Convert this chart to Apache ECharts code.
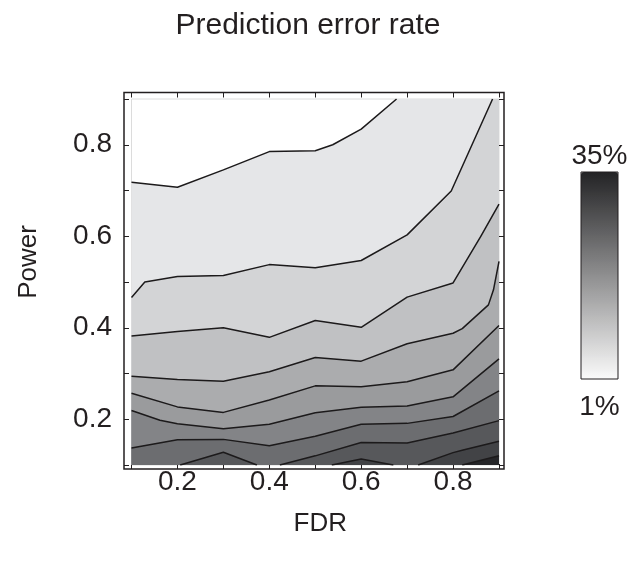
<!DOCTYPE html>
<html><head><meta charset="utf-8">
<script src="https://cdn.jsdelivr.net/npm/echarts@6/dist/echarts.min.js"></script>
<style>html,body{margin:0;padding:0;background:#fff}#c{width:634px;height:562px}</style>
</head><body><div id="c"></div>
<script>
// Axis ranges
const FDR_MIN = 0.1, FDR_MAX = 0.9;
const POW_MIN = 0.1, POW_MAX = 0.9;
const ERR_MIN = 1, ERR_MAX = 35;   // colour scale, %
const colorbarLabels = ['35%', '1%'];

// Contour lines of the prediction error rate, [FDR, Power], lightest level first
const line1  = [[0.1,0.718],[0.2,0.707],[0.3,0.745],[0.4,0.785],[0.5,0.787],[0.538,0.800],[0.6,0.834],[0.677,0.9]];
const line2  = [[0.1,0.466],[0.129,0.500],[0.2,0.512],[0.3,0.514],[0.4,0.538],[0.5,0.531],[0.6,0.547],[0.7,0.603],[0.796,0.699],[0.886,0.9]];
const line3  = [[0.1,0.382],[0.2,0.392],[0.3,0.400],[0.4,0.379],[0.5,0.416],[0.6,0.401],[0.7,0.467],[0.8,0.498],[0.86,0.599],[0.9,0.670]];
const line4  = [[0.1,0.294],[0.2,0.287],[0.3,0.283],[0.4,0.304],[0.5,0.335],[0.6,0.327],[0.7,0.365],[0.8,0.388],[0.82,0.398],[0.877,0.450],[0.888,0.483],[0.9,0.545]];
const line5  = [[0.1,0.257],[0.2,0.227],[0.3,0.215],[0.4,0.242],[0.5,0.273],[0.6,0.271],[0.7,0.282],[0.8,0.308],[0.9,0.405]];
const line6  = [[0.1,0.219],[0.162,0.198],[0.2,0.190],[0.3,0.179],[0.4,0.189],[0.5,0.214],[0.6,0.226],[0.7,0.229],[0.8,0.249],[0.9,0.332]];
const line7  = [[0.1,0.137],[0.2,0.155],[0.3,0.156],[0.4,0.142],[0.5,0.163],[0.6,0.189],[0.7,0.191],[0.8,0.206],[0.9,0.262]];
const line8a = [[0.206,0.1],[0.3,0.128],[0.373,0.1]];
const line8b = [[0.423,0.1],[0.5,0.120],[0.6,0.149],[0.7,0.148],[0.8,0.170],[0.9,0.197]];
const line9a = [[0.536,0.1],[0.6,0.113],[0.67,0.1]];
const line9b = [[0.724,0.1],[0.8,0.127],[0.822,0.133],[0.9,0.152]];
const line10 = [[0.82,0.1],[0.9,0.120]];

// which band (1 = lightest grey below line1) lies under each contour piece
const pieces = [
  [line1, 1],[line2, 2],[line3, 3],[line4, 4],[line5, 5],[line6, 6],[line7, 7],
  [line8a, 8],[line8b, 8],[line9a, 9],[line9b, 9],[line10, 10]
];

// styles
const bandColors = ['#ffffff','#e5e6e8','#d3d4d6','#c0c1c3','#abacae','#9a9b9d','#838487','#6c6d70','#57585b','#424346','#262629'];
const INK = '#231f20';
const FONT = 'Liberation Sans, Arial, Helvetica, sans-serif';
const FS = 28;
const FS_NAME = 26;

const fillSeries = pieces.map(([d, band]) => {
  const last = d[d.length - 1];
  const poly = last[1] >= POW_MAX ? d.concat([[FDR_MAX, POW_MAX]]) : d.slice();
  return {
    type: 'line', data: poly, symbol: 'none', silent: true, animation: false, z: 2,
    lineStyle: { width: 0, opacity: 0 },
    areaStyle: { color: bandColors[band], opacity: 1, origin: 'start' }
  };
});
const strokeSeries = pieces.map(([d]) => ({
  type: 'line', data: d, symbol: 'none', silent: true, animation: false, z: 3,
  lineStyle: { color: '#1c1a1b', width: 1.5 }
}));
const dummy = { type: 'scatter', data: [], silent: true };

const onlyEven = v => {
  const k = Math.round(v * 10);
  return (k % 2 === 0 && k >= 2 && k <= 8) ? (k / 10).toFixed(1) : '';
};
const tick = { inside: true, length: 5, lineStyle: { color: INK, width: 1 } };

function xAx(pos, offset, labels) {
  return {
    type: 'value', position: pos, min: FDR_MIN, max: FDR_MAX, interval: 0.1, offset,
    axisLine: { show: false }, axisTick: tick, splitLine: { show: false },
    axisLabel: { show: labels, formatter: onlyEven, fontSize: FS, color: INK, fontFamily: FONT, margin: -1 },
    name: labels ? 'FDR' : '', nameLocation: 'middle', nameGap: 42,
    nameTextStyle: { fontSize: FS_NAME, color: INK, fontFamily: FONT, padding: [0, 0, 0, 10] }
  };
}
function yAx(pos, offset, labels) {
  return {
    type: 'value', position: pos, min: POW_MIN, max: POW_MAX, interval: 0.1, offset,
    axisLine: { show: false }, axisTick: tick, splitLine: { show: false },
    axisLabel: { show: labels, formatter: onlyEven, fontSize: FS, color: INK, fontFamily: FONT, margin: 12 },
    name: labels ? 'Power' : '', nameLocation: 'middle', nameGap: 82,
    nameTextStyle: { fontSize: FS_NAME, color: INK, fontFamily: FONT, padding: [0, 0, 0, 40] }
  };
}

// colour bar geometry (px)
const CB = { x: 581, y: 172, w: 37, h: 207 };

const chart = echarts.init(document.getElementById('c'), null, { renderer: 'canvas' });
chart.setOption({
  animation: false,
  backgroundColor: '#ffffff',
  title: {
    text: 'Prediction error rate', left: 303, top: 6, textAlign: 'center',
    textStyle: { fontSize: 30, fontWeight: 'normal', color: INK, fontFamily: FONT }
  },
  grid: { left: 131.5, top: 99, width: 367.5, height: 366, show: true, borderColor: '#dcdcdc', borderWidth: 1, backgroundColor: '#ffffff' },
  xAxis: [xAx('bottom', 4, true), xAx('top', 6.5, false)],
  yAxis: [yAx('left', 7.5, true), yAx('right', 5, false)],
  visualMap: {
    type: 'continuous', min: ERR_MIN, max: ERR_MAX, seriesIndex: fillSeries.length + strokeSeries.length,
    orient: 'vertical', left: CB.x, top: CB.y, padding: 0, itemWidth: CB.w, itemHeight: CB.h,
    calculable: false, hoverLink: false, showLabel: false,
    inRange: { color: ['#fafafa', '#232325'] }
  },
  graphic: [
    { type: 'rect', silent: true, z: 100, shape: { x: 124, y: 92.5, width: 380, height: 376.5 },
      style: { fill: 'transparent', stroke: INK, lineWidth: 1.5 } },
    { type: 'rect', silent: true, z: 100, shape: { x: CB.x, y: CB.y, width: CB.w, height: CB.h },
      style: { fill: 'transparent', stroke: INK, lineWidth: 1 } },
    { type: 'text', silent: true, z: 100, x: CB.x + CB.w / 2, y: CB.y - 2,
      style: { text: colorbarLabels[0], fontSize: FS, fontFamily: FONT, fill: INK, align: 'center', verticalAlign: 'bottom' } },
    { type: 'text', silent: true, z: 100, x: CB.x + CB.w / 2, y: CB.y + CB.h + 14,
      style: { text: colorbarLabels[1], fontSize: FS, fontFamily: FONT, fill: INK, align: 'center', verticalAlign: 'top' } }
  ],
  series: fillSeries.concat(strokeSeries, [dummy])
});
</script></body></html>
